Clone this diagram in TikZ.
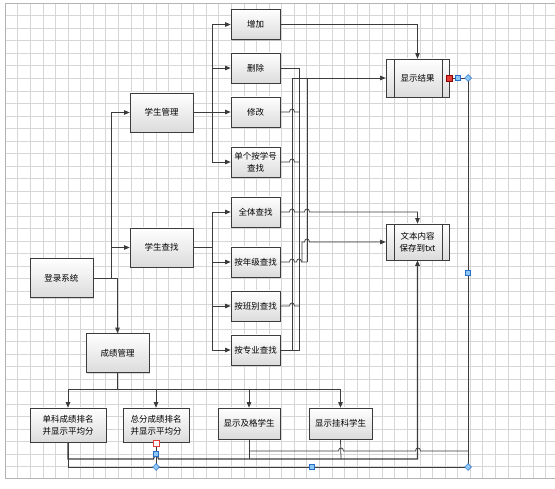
\documentclass[tikz,border=0pt]{standalone}
\usepackage{fontspec}
\usepackage{xcolor}
\usepackage{tikz}
\usetikzlibrary{arrows.meta,shadows,shapes.geometric}
\newfontfamily\cjk{Noto Sans CJK SC}
\definecolor{linegray}{RGB}{60,60,60}
\definecolor{gridgray}{RGB}{214,214,214}
\definecolor{framegray}{RGB}{180,180,180}
\definecolor{handleblue}{RGB}{140,200,245}
\definecolor{handleedge}{RGB}{40,110,200}
\definecolor{handlered}{RGB}{230,60,55}
% salto de linea (pequeno arco sobre un cruce)
\newcommand{\hop}[2]{-- ({#1-2.5},#2) .. controls ({#1-2.5},{#2-4}) and ({#1+2.5},{#2-4}) .. ({#1+2.5},#2)}

\begin{document}
\begin{tikzpicture}[x=1pt, y=-1pt,
    box/.style={draw=linegray, line width=0.7pt, top color=white, bottom color=black!14,
      drop shadow={shadow xshift=1.3pt, shadow yshift=-1.3pt, opacity=0.3},
      font=\cjk\fontsize{8.5}{12}\selectfont, align=center, inner sep=1pt},
    leaf/.style={box, minimum width=49pt, minimum height=30pt},
    mgr/.style={box, minimum width=63pt, minimum height=39pt},
    link/.style={draw=linegray, line width=0.75pt},
    arr/.style={link, -{Triangle[length=5.5pt, width=4.5pt]}},
    gridln/.style={gridgray, line width=0.4pt},
    hsq/.style={draw=handleedge, fill=handleblue, minimum size=5pt, inner sep=0pt, line width=0.5pt},
    hdia/.style={diamond, draw=handleedge, fill=handleblue, minimum size=7pt, inner sep=0pt, line width=0.5pt}]

      % Fondo y cuadricula
      \fill[white] (0,0) rectangle (555,489);
      \useasboundingbox (0,0) rectangle (555,489);
      \foreach \gx in {5,17.57,...,555} \draw[gridln] (\gx,3) -- (\gx,478);
      \foreach \gy in {3,15.53,...,478} \draw[gridln] (5,\gy) -- (555,\gy);
      \draw[framegray, line width=0.6pt] (555,3) -- (5,3) -- (5,478) -- (555,478);

      % Nodos
      \node[mgr] (login) at (61.5,278) {登录系统};
      \node[mgr] (smgr) at (161.5,112.5) {学生管理};
      \node[mgr] (sfind) at (161.5,247.5) {学生查找};
      \node[mgr] (cmgr) at (117.5,353) {成绩管理};

      \node[leaf] (add) at (255.5,24.5) {增加};
      \node[leaf] (del) at (255.5,68) {删除};
      \node[leaf] (mod) at (255.5,112) {修改};
      \node[leaf] (byid) at (255.5,162) {单个按学号\\查找};
      \node[leaf] (all) at (255.5,212) {全体查找};
      \node[leaf] (grade) at (255.5,262) {按年级查找};
      \node[leaf] (class) at (255.5,306) {按班别查找};
      \node[leaf] (major) at (255.5,350) {按专业查找};

      \node[box, minimum width=76pt, minimum height=34pt] (single) at (68,425) {单科成绩排名\\并显示平均分};
      \node[box, minimum width=66pt, minimum height=34pt] (total) at (156,425) {总分成绩排名\\并显示平均分};
      \node[box, minimum width=62pt, minimum height=31pt] (pass) at (249,423.5) {显示及格学生};
      \node[box, minimum width=63pt, minimum height=31pt] (fail) at (340.5,423.5) {显示挂科学生};

      \node[mgr, minimum height=38pt] (res) at (417.5,78) {显示结果};
      \node[mgr, minimum height=36pt] (txt) at (417.5,242) {文本内容\\保存到txt};
      \foreach \n in {res,txt} {
        \draw[link] ([xshift=9pt]\n.north west) -- ([xshift=9pt]\n.south west);
        \draw[link] ([xshift=-7pt]\n.north east) -- ([xshift=-7pt]\n.south east);
      }

      % Flechas del menu
      \coordinate (lj) at (111,278);
      \draw[link] (login.east) -- (lj);
      \draw[arr] (lj) |- (smgr.west);
      \draw[arr] (lj) |- (sfind.west);
      \draw[arr] (login.east) -| (cmgr.north);

      \coordinate (sj) at (212,112.5);
      \draw[link] (smgr.east) -- (sj);
      \foreach \n in {add,del,mod,byid} \draw[arr] (sj) |- (\n.west);

      \coordinate (fj) at (212,247.5);
      \draw[link] (sfind.east) -- (fj);
      \foreach \n in {all,grade,class,major} \draw[arr] (fj) |- (\n.west);

      % Salidas hacia resultados
      \draw[arr] (add.east) -| (res.north);
      \draw[link] (major.east) -- (299,350) -- (299,68) -- (del.east);
      \draw[arr] (292,350) |- (res.west);
      \draw[link] (307,78) -- (307,262);
      \draw[link] (mod.east) \hop{292}{112} -- (299,112);
      \draw[link] (byid.east) \hop{292}{162} -- (299,162);
      \draw[arr] (all.east) \hop{292}{212} \hop{307}{212} -| (txt.north);
      \draw[link] (grade.east) \hop{292}{262} \hop{299}{262} -- (307,262);
      \draw[arr] (302,262) -- (302,242) \hop{307}{242} -- (txt.west);
      \draw[link] (class.east) \hop{292}{306} -- (299,306);

      % Ramas de notas
      \coordinate (cj) at (117.5,389);
      \draw[link] (cmgr.south) -- (cj);
      \foreach \n in {single,total,pass,fail} \draw[arr] (cj) -| (\n.north);

      \draw[link] (single.south) |- (468,467) -- (468,78) -- (res.east);
      \draw[link] (total.south) -- (156,467);
      \draw[arr, line width=1.2pt] (single.south) -- (68,459) \hop{156}{459} -| (txt.south);
      \draw[link] (pass.south) -- (249,459);
      \draw[link] (249,451) \hop{341}{451} \hop{418}{451} -- (468,451);
      \draw[link] (fail.south) -- (341,459);

      % Marcas de seleccion
      \node[hsq, minimum size=6pt, fill=handlered, draw=red!55!black] (h1) at (449,78) {};
      \node[hsq] (h2) at (458,78) {};
      \node[hdia] (h3) at (468,78) {};
      \node[hsq, minimum size=6pt, fill=white, draw=handlered] (h4) at (156,443) {};
      \node[hsq] (h5) at (156,454) {};
      \node[hdia] (h6) at (156,467) {};
      \node[hsq] (h7) at (468,273) {};
      \node[hsq] (h8) at (312,467) {};
      \node[hdia] (h9) at (468,467) {};
    \end{tikzpicture}
\end{document}
